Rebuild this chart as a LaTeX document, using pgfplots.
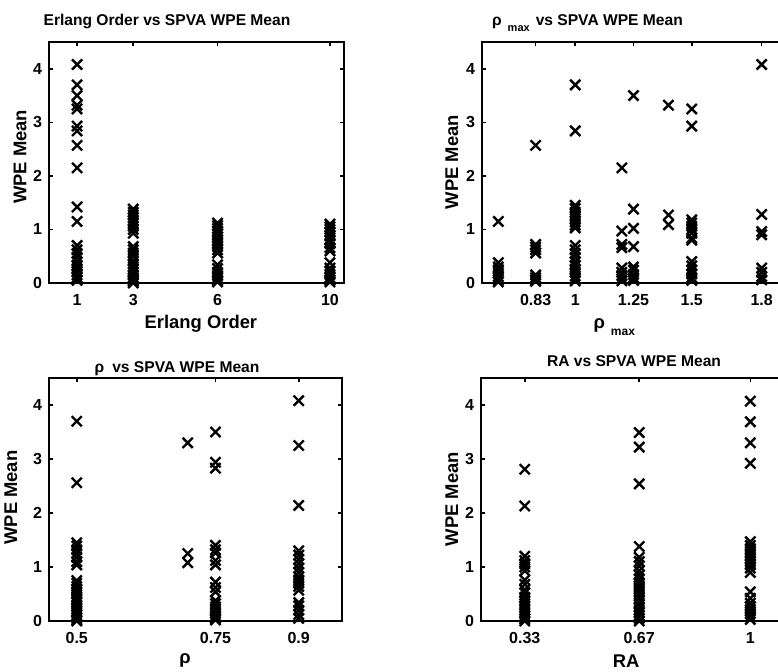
\documentclass[border=0pt]{standalone}
\usepackage{pgfplots}
\pgfplotsset{compat=1.18}
\usepackage{fontspec}
\setmainfont{Liberation Sans}
\newcommand{\fs}{\fontsize{8}{9.5}\selectfont\bfseries}
\newcommand{\fl}{\fontsize{9.2}{11}\selectfont\bfseries}
\newcommand{\ft}{\fontsize{7.8}{9.5}\selectfont\bfseries}
\begin{document}
\begin{tikzpicture}
\pgfplotsset{
 panel/.style={
  scale only axis,
  axis line style={line width=0.9pt},
  ymin=0, ymax=4.5, ytick={0,1,2,3,4},
  tick align=inside, major tick length=2.2pt,
  every tick/.style={black, line width=0.8pt},
  /pgf/number format/assume math mode=true,
  tick label style={font=\fs},
  label style={font=\fl},
  title style={font=\ft},
  xticklabel style={yshift=-2pt},
  ylabel={WPE Mean},
  clip=false,
 },
 pts/.style={black, only marks, mark=x, mark size=3.6pt, line width=1.2pt},
}
% ---------- top left ----------
\begin{axis}[panel, at={(24.5pt,-141.5pt)}, anchor=south west,
  width=147.5pt, height=120.5pt,
  xmin=0, xmax=10.5, xtick={1,3,6,10},
  title={Erlang Order vs SPVA WPE Mean},
  title style={at={(axis description cs:0.40,1)}, anchor=base, yshift=2.5pt},
  xlabel={Erlang Order},
  xlabel style={at={(axis description cs:0.515,0)}, anchor=base, yshift=-22.5pt},
  ylabel style={at={(axis description cs:-0.098,0.523)}, anchor=center},
]
\addplot[pts] coordinates {
 (1,4.08) (1,3.70) (1,3.50) (1,3.32) (1,3.25) (1,2.93) (1,2.84) (1,2.57) (1,2.15)
 (1,1.42) (1,1.15) (1,0.70) (1,0.62) (1,0.55) (1,0.48) (1,0.40) (1,0.33) (1,0.27)
 (1,0.21) (1,0.15) (1,0.10) (1,0.05)
 (3,1.38) (3,1.32) (3,1.27) (3,1.22) (3,1.17) (3,1.12) (3,1.06) (3,1.00) (3,0.93)
 (3,0.68) (3,0.62) (3,0.56) (3,0.50) (3,0.42) (3,0.36) (3,0.30) (3,0.25) (3,0.20)
 (3,0.15) (3,0.10) (3,0.06) (3,0.03) (3,0.00)
 (6,1.12) (6,1.07) (6,1.02) (6,0.97) (6,0.92) (6,0.86) (6,0.80) (6,0.74) (6,0.68)
 (6,0.62) (6,0.56) (6,0.34) (6,0.27) (6,0.20) (6,0.14) (6,0.09) (6,0.05) (6,0.02)
 (10,1.10) (10,1.05) (10,1.00) (10,0.95) (10,0.88) (10,0.80) (10,0.74) (10,0.66)
 (10,0.60) (10,0.38) (10,0.28) (10,0.22) (10,0.16) (10,0.10) (10,0.05) (10,0.02)
};
\end{axis}
% ---------- top right ----------
\begin{axis}[panel, at={(241pt,-141.5pt)}, anchor=south west,
  width=151.5pt, height=120.5pt,
  xmin=0.6, xmax=1.9, xtick={0.83,1,1.25,1.5,1.8},
  xticklabels={0.83,1,1.25,1.5,1.8},
  title={ρ\hspace{3pt}\raisebox{-0.8ex}{\fontsize{5.5}{6}\selectfont max}\hspace{3pt}vs SPVA WPE Mean},
  title style={at={(axis description cs:0.01,1)}, anchor=base west, yshift=2.5pt},
  xlabel={ρ\hspace{3pt}\raisebox{-0.8ex}{\fontsize{6}{7}\selectfont max}},
  xlabel style={at={(axis description cs:0.345,0)}, anchor=base west, yshift=-22.5pt},
  ylabel style={at={(axis description cs:-0.099,0.502)}, anchor=center},
]
\addplot[pts] coordinates {
 (0.67,1.15) (0.67,0.38) (0.67,0.30) (0.67,0.25) (0.67,0.18) (0.67,0.12) (0.67,0.06) (0.67,0.02)
 (0.83,2.57) (0.83,0.72) (0.83,0.67) (0.83,0.62) (0.83,0.56) (0.83,0.15) (0.83,0.10) (0.83,0.06) (0.83,0.03)
 (1,3.70) (1,2.84) (1,1.45) (1,1.39) (1,1.32) (1,1.26) (1,1.20) (1,1.14) (1,1.08) (1,1.03)
 (1,0.70) (1,0.62) (1,0.55) (1,0.48) (1,0.40) (1,0.33) (1,0.26) (1,0.20) (1,0.13) (1,0.08) (1,0.04)
 (1.2,2.15) (1.2,0.97) (1.2,0.72) (1.2,0.66) (1.2,0.28) (1.2,0.20) (1.2,0.14) (1.2,0.08) (1.2,0.04)
 (1.25,3.50) (1.25,1.38) (1.25,1.02) (1.25,0.68) (1.25,0.30) (1.25,0.24) (1.25,0.16) (1.25,0.10) (1.25,0.05)
 (1.4,3.32) (1.4,1.27) (1.4,1.09)
 (1.5,3.25) (1.5,2.93) (1.5,1.18) (1.5,1.12) (1.5,1.06) (1.5,1.00) (1.5,0.93) (1.5,0.84) (1.5,0.80)
 (1.5,0.40) (1.5,0.32) (1.5,0.24) (1.5,0.17) (1.5,0.10) (1.5,0.05)
 (1.8,4.08) (1.8,1.28) (1.8,0.96) (1.8,0.90) (1.8,0.28) (1.8,0.20) (1.8,0.12) (1.8,0.06)
};
\end{axis}
% ---------- bottom left ----------
\begin{axis}[panel, at={(24.5pt,-310.5pt)}, anchor=south west,
  width=146.5pt, height=121.5pt,
  xmin=0.45, xmax=0.978, xtick={0.5,0.75,0.9},
  xticklabels={0.5,0.75,0.9},
  title={ρ\hspace{4pt}vs SPVA WPE Mean},
  title style={at={(axis description cs:0.437,1)}, anchor=base, yshift=-3.1pt},
  xlabel={ρ},
  xlabel style={at={(axis description cs:0.464,0)}, anchor=base, yshift=-21pt},
  ylabel style={at={(axis description cs:-0.13,0.508)}, anchor=center},
]
\addplot[pts] coordinates {
 (0.5,3.70) (0.5,2.56) (0.5,1.45) (0.5,1.39) (0.5,1.32) (0.5,1.25) (0.5,1.18) (0.5,1.10) (0.5,1.04)
 (0.5,0.75) (0.5,0.70) (0.5,0.64) (0.5,0.58) (0.5,0.52) (0.5,0.45) (0.5,0.40) (0.5,0.34) (0.5,0.28)
 (0.5,0.22) (0.5,0.16) (0.5,0.11) (0.5,0.06) (0.5,0.02) (0.5,0.00)
 (0.7,3.30) (0.7,1.25) (0.7,1.08)
 (0.75,3.50) (0.75,2.94) (0.75,2.83) (0.75,1.40) (0.75,1.32) (0.75,1.26) (0.75,1.12) (0.75,1.04)
 (0.75,0.72) (0.75,0.62) (0.75,0.54) (0.75,0.38) (0.75,0.32) (0.75,0.26) (0.75,0.20) (0.75,0.14)
 (0.75,0.09) (0.75,0.05) (0.75,0.02)
 (0.9,4.08) (0.9,3.25) (0.9,2.14) (0.9,1.30) (0.9,1.22) (0.9,1.14) (0.9,1.06) (0.9,0.98) (0.9,0.90)
 (0.9,0.82) (0.9,0.76) (0.9,0.70) (0.9,0.64) (0.9,0.57) (0.9,0.34) (0.9,0.28) (0.9,0.20) (0.9,0.12) (0.9,0.05)
};
\end{axis}
% ---------- bottom right ----------
\begin{axis}[panel, at={(240.5pt,-310.5pt)}, anchor=south west,
  width=151.5pt, height=121.5pt,
  xmin=0.2, xmax=1.1, xtick={0.33,0.67,1},
  xticklabels={0.33,0.67,1},
  title={RA vs SPVA WPE Mean},
  title style={at={(axis description cs:0.505,1)}, anchor=base, yshift=-0.3pt},
  xlabel={RA},
  xlabel style={at={(axis description cs:0.479,0)}, anchor=base, yshift=-23pt},
  ylabel style={at={(axis description cs:-0.096,0.502)}, anchor=center},
]
\addplot[pts] coordinates {
 (0.33,2.81) (0.33,2.13) (0.33,1.20) (0.33,1.12) (0.33,1.06) (0.33,1.00) (0.33,0.93) (0.33,0.76)
 (0.33,0.68) (0.33,0.58) (0.33,0.52) (0.33,0.44) (0.33,0.38) (0.33,0.32) (0.33,0.26) (0.33,0.20)
 (0.33,0.14) (0.33,0.09) (0.33,0.04) (0.33,0.00)
 (0.67,3.49) (0.67,3.22) (0.67,2.54) (0.67,1.38) (0.67,1.18) (0.67,1.10) (0.67,1.02) (0.67,0.93)
 (0.67,0.85) (0.67,0.78) (0.67,0.71) (0.67,0.65) (0.67,0.59) (0.67,0.53) (0.67,0.46) (0.67,0.40)
 (0.67,0.33) (0.67,0.26) (0.67,0.20) (0.67,0.15) (0.67,0.10) (0.67,0.05) (0.67,0.00)
 (1,4.07) (1,3.69) (1,3.30) (1,2.92) (1,1.47) (1,1.40) (1,1.34) (1,1.28) (1,1.22) (1,1.16)
 (1,1.10) (1,1.04) (1,0.98) (1,0.90) (1,0.54) (1,0.42) (1,0.33) (1,0.27) (1,0.21) (1,0.14)
 (1,0.08) (1,0.03)
};
\end{axis}
\pgfresetboundingbox
\path[use as bounding box] (0pt,0pt) rectangle (389pt,-335.5pt);
\end{tikzpicture}
\end{document}
